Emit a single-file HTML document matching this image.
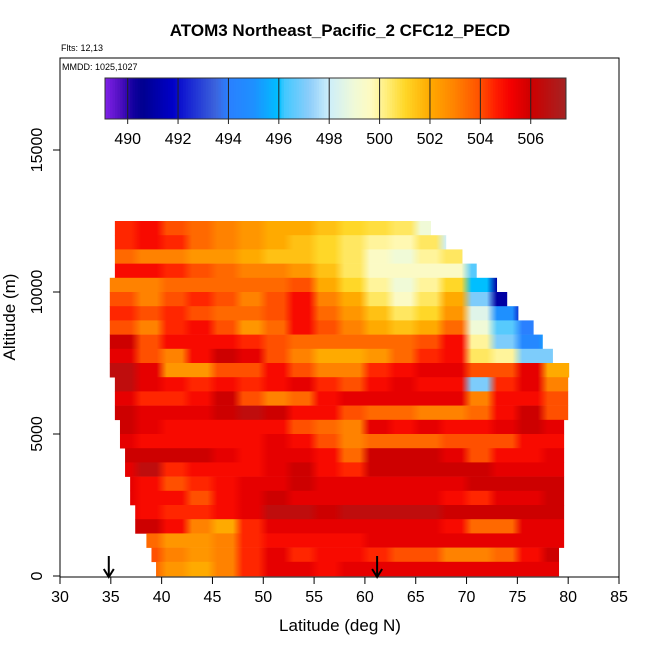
<!DOCTYPE html>
<html><head><meta charset="utf-8"><style>
body{margin:0;background:#fff}
svg{display:block;font-family:"Liberation Sans",sans-serif}
</style></head><body>
<svg id="chart" width="650" height="650" viewBox="0 0 650 650">
<defs id="defs"></defs>
<text x="340" y="36" text-anchor="middle" font-size="17" font-weight="bold">ATOM3 Northeast_Pacific_2 CFC12_PECD</text>
<text x="61" y="51" font-size="9">Flts: 12,13</text>
<text x="62" y="70" font-size="9">MMDD: 1025,1027</text>
<g id="cells"></g>
<g id="cbar"></g>
<rect x="60" y="58" width="559" height="519" fill="none" stroke="#000" stroke-width="1"/>
<g id="axes"></g>
<text x="340" y="631" text-anchor="middle" font-size="17">Latitude (deg N)</text>
<text transform="translate(15,317) rotate(-90)" text-anchor="middle" font-size="17">Altitude (m)</text>
</svg>
<script>
// Data
const latEdgesStart = 35, latStep = 2.5;
const rowAlts = [12000,11500,11000,10500,10000,9500,9000,8500,8000,7500,7000,6500,6000,5500,5000,4500,4000,3500,3000,2500,2000,1500,1000,500,0];
const rowStartLat = [35.4,35.4,35.4,35.4,34.9,34.9,34.9,34.9,34.9,34.9,34.9,35.4,35.4,35.4,35.9,35.9,36.4,36.4,36.9,36.9,37.4,37.4,38.5,39.0,39.45];
const rowEndLat = [66.5,68.0,69.6,71.0,73.0,74.0,75.1,76.6,77.5,78.5,80.1,80.0,80.0,80.0,79.6,79.6,79.6,79.6,79.6,79.6,79.6,79.6,79.6,79.1,79.1];
const values = [
[504.5,505,504,503.5,503,502.5,502,502,501.5,501,500.8,500.5,499],
[504.5,505,504.5,503.5,503,502.5,502,501.5,501,500.5,500,499.8,500.5,498],
[503.5,503,503,502.5,502.5,502,501.5,501.5,501,500.5,499.5,499,500,500.5,497.5],
[505,505,504.5,504,503.5,503,503,502.5,501.5,500.5,499.5,499.5,499.5,499.5,496.5],
[503,503,503.5,503.5,503.5,503.5,503.5,504,502,501,500,499,500,501,496,491],
[504,503,504,504.5,504,503,504,505,503,502,500.5,499.5,500.5,502,497,491,493],
[504.5,504,504.5,504,503.5,503.5,504,505,503.5,502.5,501.5,500.5,501,502.5,498.5,495,491.5],
[504,503,504.5,505,504,502.5,503.5,505,504,503,502,501.5,502,503.5,499,496.5,494,495],
[506,504,505,505,505,504.5,504,503.5,503.5,503.5,503.5,503.5,504,505,500,497,494.5,495.5],
[505.5,504,503,505,506,505.5,504,503,502,502,502.5,503.5,504.5,505,500.5,500,497,497],
[506.5,505.5,502.5,502.5,504,504,505,504,503,503,504.5,505,505.5,505.5,504,504,505.5,502],
[506.5,505.5,505,504.5,505,504.5,505,505.5,504.5,504,505,505.5,505,505,497,504.5,505.5,503],
[505.5,504.5,504.5,505,506,504,503,503.5,505,505.5,505.5,505.5,505.5,505.5,503,505,505,504],
[506,505.5,505.5,505.5,506,506.5,506,505,505,504,503.5,503.5,503,503,503.5,505,506,504],
[506,505.5,505,505,505,505,505,504,503.5,503,505.5,505,505.5,505,505,505.5,506,505.5],
[505.5,505,505,505,505,505,505.5,505,504,503,503.5,503.5,503.5,504,504,504,505,505],
[506,506,506,506,505.5,505,505.5,505.5,505,503.5,506,506,506,505.5,504,505,505,505.5],
[505.5,506.5,504.5,505,505,505,505.5,506,505,504.5,506,506,506,506,506,505.5,505.5,505.5],
[505.5,505,504,504.5,505,505.5,505.5,506,505.5,505.5,505.5,505.5,505.5,505.5,506,506,506,506],
[505.5,505,505,504,505,505.5,506,505.5,505.5,505.5,505.5,505.5,505.5,505,504.5,505.5,505.5,506],
[505.5,505,504.5,504.5,505,505.5,506.5,506.5,506,506.5,506.5,506.5,506.5,506,506,506,506,506],
[506,506,505,503,502,504.5,505.5,505.5,505.5,505.5,505.5,505.5,505.5,505,503.5,503.5,505.5,505.5],
[506,503.5,502.5,502.5,503,504.5,505,505,505,505,505.5,505.5,505.5,505.5,505.5,505.5,505.5,505.5],
[506,504,503,502.5,503,504.5,505.5,504.5,505,505,504.5,504,504,503,503,503.5,505,506],
[506,503.5,502.5,502,503,504.5,505.5,505.5,505,505.5,505.5,505.5,505.5,505.5,505.5,505.5,505.5,505.5]
];
const xTicks = [30,35,40,45,50,55,60,65,70,75,80,85];
const yTicks = [0,5000,10000,15000];
const cbTicks = [490,492,494,496,498,500,502,504,506];
const arrowLats = [34.8,61.2];
const cbMin = 489.1, cbMax = 507.4;

// Scales
const X = lat => 60 + (lat - 30) * 559 / 55;
const Y = alt => 576 - alt * 426 / 15000;
const CB = v => 105 + (v - cbMin) * (566 - 105) / (cbMax - cbMin);

const stops = [[489.1,[128,32,232]],[489.7,[80,16,192]],[490.2,[20,0,160]],[490.6,[0,0,144]],[491.8,[0,0,200]],[492.3,[20,30,210]],[493.5,[60,100,220]],[494,[42,128,255]],[495,[30,144,255]],[496,[0,191,255]],[496.2,[64,200,255]],[497.2,[140,205,250]],[498,[205,238,250]],[499,[240,250,215]],[499.7,[255,250,190]],[500.3,[255,238,120]],[501,[255,215,40]],[502,[255,170,0]],[503,[255,130,0]],[504,[255,80,0]],[504.6,[255,30,0]],[505.2,[245,0,0]],[506,[205,0,0]],[507.4,[165,35,35]]];
function color(v){
  if(v<=stops[0][0]) return 'rgb('+stops[0][1]+')';
  for(let i=1;i<stops.length;i++){
    if(v<=stops[i][0]){
      const a=stops[i-1],b=stops[i],t=(v-a[0])/(b[0]-a[0]);
      const c=a[1].map((x,k)=>Math.round(x+(b[1][k]-x)*t));
      return 'rgb('+c.join(',')+')';
    }
  }
  return 'rgb('+stops[stops.length-1][1]+')';
}
const NS='http://www.w3.org/2000/svg';
function mk(tag,attrs,parent){const e=document.createElementNS(NS,tag);for(const k in attrs)e.setAttribute(k,attrs[k]);parent.appendChild(e);return e;}

// Heatmap rows: each row filled with a gradient whose stops sit at the column centres
const cells=document.getElementById('cells');
const defs=document.getElementById('defs');
rowAlts.forEach((alt,r)=>{
  const gid='rowgrad'+r;
  const g=mk('linearGradient',{id:gid,gradientUnits:'userSpaceOnUse',x1:X(latEdgesStart),x2:X(latEdgesStart+18*latStep),y1:0,y2:0},defs);
  const span=18*latStep;
  values[r].forEach((v,c)=>{
    const centre=latEdgesStart+(c+0.5)*latStep;
    const off=(centre-latEdgesStart)/span;
    // hold each column's colour over its middle part, blend near edges
    mk('stop',{offset:Math.max(0,off-0.3*latStep/span).toFixed(4),'stop-color':color(v)},g);
    mk('stop',{offset:Math.min(1,off+0.3*latStep/span).toFixed(4),'stop-color':color(v)},g);
  });
  const x0=X(rowStartLat[r]),x1=X(rowEndLat[r]),y0=Y(alt+500),y1=Y(alt);
  const e=mk('rect',{x:x0.toFixed(2),y:y0.toFixed(2),width:(x1-x0).toFixed(2),height:(y1-y0+0.3).toFixed(2),fill:'url(#'+gid+')'},cells);
  
  
});

// Colorbar
const cb=document.getElementById('cbar');
for(let v=cbMin; v<cbMax; v+=0.1){
  const e=mk('rect',{x:CB(v).toFixed(2),y:78,width:(CB(v+0.1)-CB(v)+0.5).toFixed(2),height:41,fill:color(v+0.05)},cb);
  
  
}
mk('rect',{x:105,y:78,width:461,height:41,fill:'none',stroke:'#333','stroke-width':1},cb);
cbTicks.forEach(t=>{
  const l=mk('line',{x1:CB(t),x2:CB(t),y1:78,y2:124,stroke:'#222','stroke-width':1},cb);
  
  
  const tx=mk('text',{x:CB(t),y:144,'text-anchor':'middle','font-size':16},cb);
  tx.textContent=t;
  
  
});

// Axes
const ax=document.getElementById('axes');
xTicks.forEach(t=>{
  mk('line',{x1:X(t),x2:X(t),y1:577,y2:584,stroke:'#000'},ax);
  const tx=mk('text',{x:X(t),y:602,'text-anchor':'middle','font-size':16},ax);
  tx.textContent=t;
  
  
});
yTicks.forEach(t=>{
  mk('line',{x1:53,x2:60,y1:Y(t),y2:Y(t),stroke:'#000'},ax);
  const tx=mk('text',{transform:'translate(42,'+Y(t)+') rotate(-90)','text-anchor':'middle','font-size':16},ax);
  tx.textContent=t;
  
  
});
arrowLats.forEach(lat=>{
  const g=mk('g',{},ax);
  
  
  const x=X(lat);
  mk('line',{x1:x,x2:x,y1:556,y2:577,stroke:'#000','stroke-width':2},g);
  mk('path',{d:`M${x-5},569 L${x},577 L${x+5},569`,fill:'none',stroke:'#000','stroke-width':2},g);
});
</script>
</body></html>
